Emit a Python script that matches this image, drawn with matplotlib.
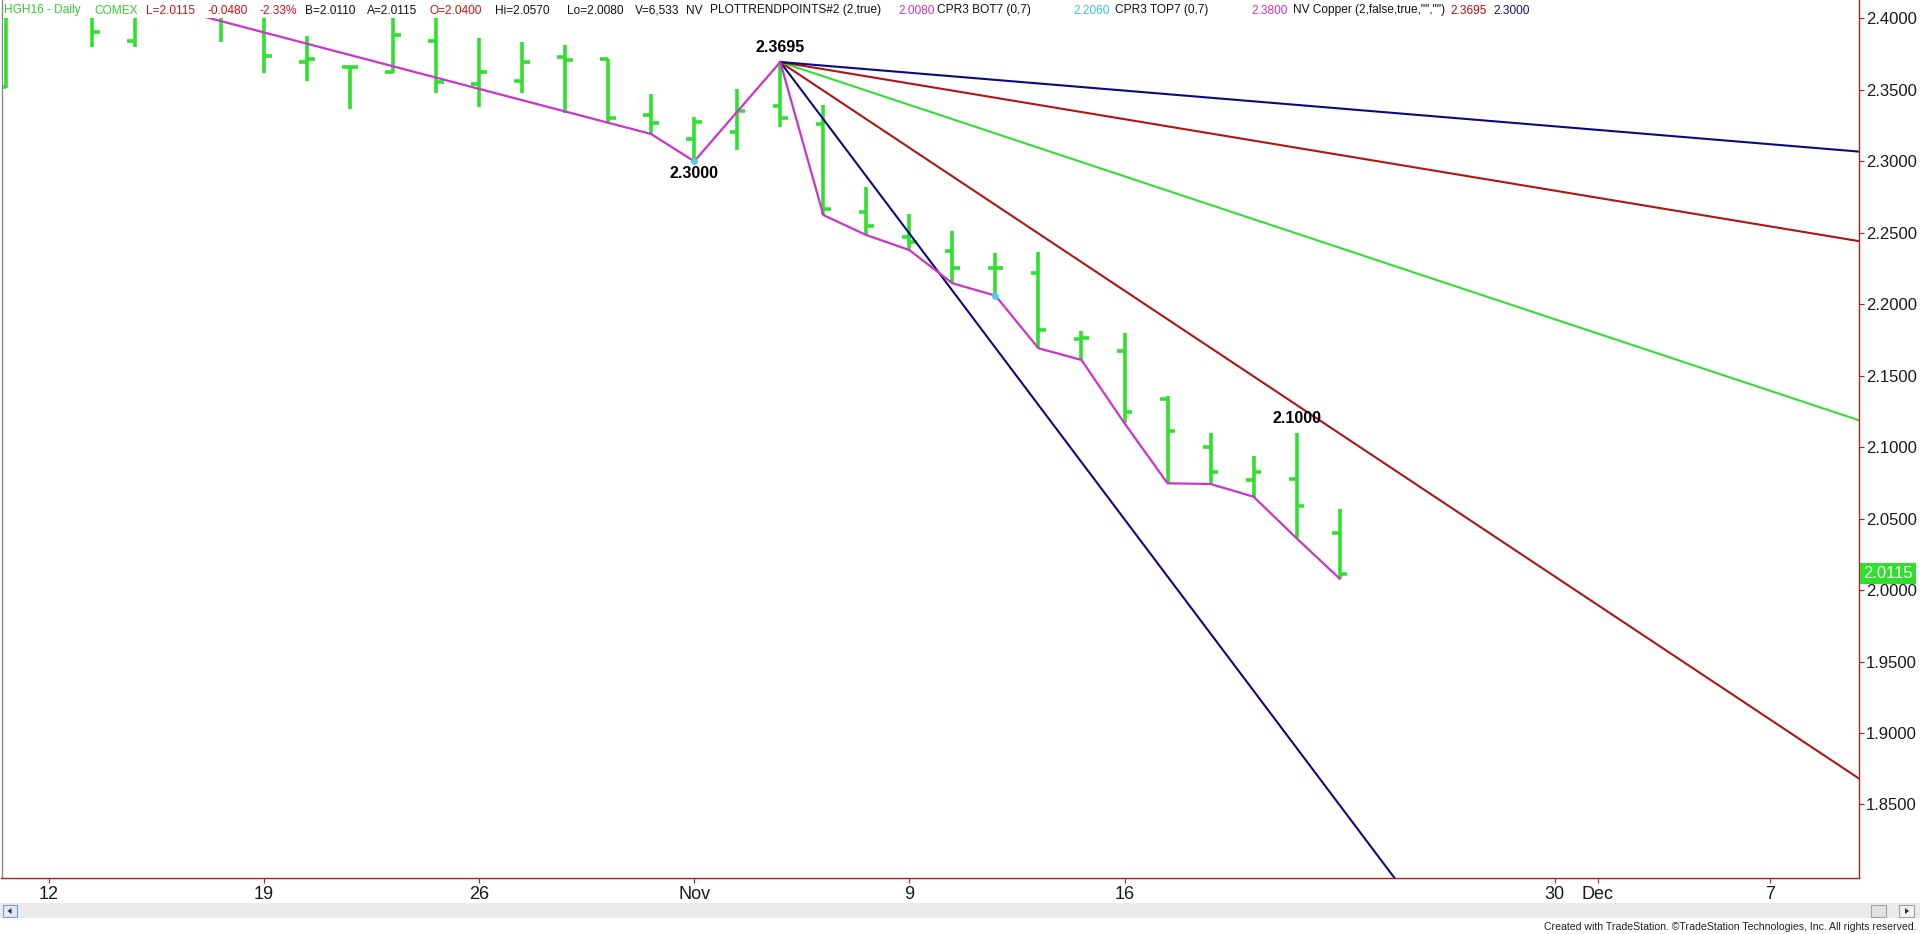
import numpy as np
import matplotlib.pyplot as plt
from matplotlib.patches import Rectangle, Polygon

# trading-day index, 0 = Mon 12 Oct 2015 (gaps are bars sitting above the visible range)
bar_idx = [-1, 1, 2, 4, 5, 6, 7, 8, 9, 10, 11, 12, 13, 14, 15, 16, 17, 18, 19, 20,
           21, 22, 23, 24, 25, 26, 27, 28, 29, 30]
bar_open = [2.3518, 2.4050, 2.3842, 2.4060, 2.4050, 2.3697, 2.3662, 2.3627, 2.3842, 2.3541,
            2.3562, 2.3732, 2.3714, 2.3324, 2.3154, 2.3207, 2.3387, 2.3261, 2.2648, 2.2470,
            2.2374, 2.2255, 2.2216, 2.1757, 2.1673, 2.1335, 2.1003, 2.0770, 2.0777, 2.0400]
bar_high = [2.4100, 2.4100, 2.4100, 2.4100, 2.4100, 2.3877, 2.3669, 2.4100, 2.4050, 2.3861,
            2.3837, 2.3814, 2.3714, 2.3471, 2.3308, 2.3504, 2.3695, 2.3394, 2.2822, 2.2631,
            2.2515, 2.2361, 2.2363, 2.1815, 2.1797, 2.1358, 2.1101, 2.0940, 2.1097, 2.0570]
bar_low = [2.3513, 2.3798, 2.3798, 2.3837, 2.3616, 2.3564, 2.3364, 2.3616, 2.3476, 2.3382,
           2.3476, 2.3340, 2.3277, 2.3191, 2.3000, 2.3079, 2.3242, 2.2624, 2.2484, 2.2379,
           2.2147, 2.2060, 2.1692, 2.1610, 2.1167, 2.0747, 2.0742, 2.0653, 2.0362, 2.0080]
bar_close = [2.4050, 2.3903, 2.4040, 2.4030, 2.3737, 2.3716, 2.3662, 2.3884, 2.3555, 2.3623,
             2.3693, 2.3709, 2.3301, 2.3266, 2.3277, 2.3352, 2.3301, 2.2664, 2.2547, 2.2437,
             2.2251, 2.2255, 2.1820, 2.1762, 2.1248, 2.1113, 2.0828, 2.0828, 2.0590, 2.0115]

# NV trend points (zigzag)
trend_idx = [3, 14, 15, 17, 18, 19, 20, 21, 22, 23, 24, 25, 26, 27, 28, 29, 30]
trend_price = [2.4060, 2.3191, 2.3000, 2.3695, 2.2624, 2.2484, 2.2379, 2.2147, 2.2060,
               2.1692, 2.1610, 2.1167, 2.0747, 2.0742, 2.0653, 2.0362, 2.0080]

# angle lines drawn from the swing high
fan_idx = 17
fan_price = 2.3695
fan_slopes = [-0.04, -0.02, -0.01, -0.005, -0.0025]
fan_colors = ["#0a0a80", "#b01414", "#33dd33", "#b01414", "#0a0a80"]

cpr_idx = [15, 22]
cpr_price = [2.3000, 2.2060]

pivot_labels = ["2.3695", "2.3000", "2.1000"]
pivot_idx = [17, 15, 29]
pivot_price = [2.3695, 2.3000, 2.1097]
pivot_above = [True, False, True]

date_ticks = [0, 5, 10, 15, 20, 25, 35, 36, 40]
date_labels = ["12", "19", "26", "Nov", "9", "16", "30", "Dec", "7"]
month_ticks = [15, 36]

price_ticks = [1.85, 1.90, 1.95, 2.00, 2.05, 2.10, 2.15, 2.20, 2.25, 2.30, 2.35, 2.40]
last_price = 2.0115

header = [
    ("HGH16 - Daily", "#33cc33"), ("COMEX", "#33cc33"),
    ("L=2.0115", "#cc1111"), ("-0.0480", "#cc1111"), ("-2.33%", "#cc1111"),
    ("B=2.0110", "#111111"), ("A=2.0115", "#111111"), ("O=2.0400", "#cc1111"),
    ("Hi=2.0570", "#111111"), ("Lo=2.0080", "#111111"), ("V=6,533", "#111111"),
    ("NV", "#111111"), ("PLOTTRENDPOINTS#2 (2,true)", "#111111"),
    ("2.0080", "#cc33cc"), ("CPR3 BOT7 (0,7)", "#111111"),
    ("2.2060", "#33cccc"), ("CPR3 TOP7 (0,7)", "#111111"),
    ("2.3800", "#cc33cc"), ('NV Copper (2,false,true,"","")', "#111111"),
    ("2.3695", "#aa1111"), ("2.3000", "#10107a"),
]
header_x = [4, 94, 146, 208, 259, 305, 367, 430, 495, 567, 635, 686, 710,
            898, 937, 1073, 1115, 1251, 1293, 1450, 1493]

W, H = 1920, 934
BAR_GREEN = "#2fe02f"
AXIS_RED = "#b41e1e"
NARROW = ["Liberation Sans Narrow", "Liberation Sans"]

fig = plt.figure(figsize=(W / 100, H / 100), dpi=100)
ax_left, ax_right, ax_bottom = 1.5, 1859, 878
ax = fig.add_axes([ax_left / W, (H - ax_bottom) / H, (ax_right - ax_left) / W, ax_bottom / H])

ax.set_xlim(-1.10, 42.07)
ax.set_ylim(1.7985, 2.4129)

idx = np.array(bar_idx, dtype=float)
tick_w = 0.18
ax.vlines(idx, bar_low, bar_high, color=BAR_GREEN, linewidth=2.6, zorder=2)
ax.hlines(bar_open, idx - tick_w, idx, color=BAR_GREEN, linewidth=2.6, zorder=2)
ax.hlines(bar_close, idx, idx + tick_w, color=BAR_GREEN, linewidth=2.6, zorder=2)

fan_x = np.array([fan_idx, 45.0])
for slope, color in zip(fan_slopes, fan_colors):
    ax.plot(fan_x, fan_price + slope * (fan_x - fan_idx), color=color, linewidth=1.5, zorder=3)

ax.plot(trend_idx, trend_price, color="#cc33cc", linewidth=1.6, zorder=4)
ax.plot(cpr_idx, cpr_price, "o", color="#55c8f0", markersize=5, markeredgewidth=0, zorder=5)

for text, i, p, above in zip(pivot_labels, pivot_idx, pivot_price, pivot_above):
    ax.annotate(text, (i, p), xytext=(0, 10.5 if above else -9), textcoords="offset points",
                ha="center", va="center", fontsize=11.5, fontweight="bold",
                family="Liberation Sans", color="black", zorder=7)

# white band behind the status line at the top of the chart
band = 18 / ax_bottom
ax.add_patch(Rectangle((0, 1 - band), 1, band, transform=ax.transAxes,
                       facecolor="white", edgecolor="none", zorder=6))

# axes frame
ax.spines["top"].set_visible(False)
ax.spines["left"].set_color("#8a8a8a")
ax.spines["right"].set_color(AXIS_RED)
ax.spines["bottom"].set_color(AXIS_RED)
for s in ax.spines.values():
    s.set_linewidth(1.0)
    s.set_zorder(10)

ax.yaxis.tick_right()
ax.set_yticks(price_ticks)
ax.set_yticklabels([f"{p:.4f}" for p in price_ticks])
ax.tick_params(axis="y", length=3.5, width=0.8, color=AXIS_RED, pad=1.5,
               labelsize=12, labelcolor="#1a1a1a")
for lab in ax.get_yticklabels():
    lab.set_family("Liberation Sans")

ax.set_xticks(date_ticks)
ax.set_xticklabels(date_labels)
ax.set_xticks(month_ticks, minor=True)
ax.tick_params(axis="x", which="major", length=3.5, width=0.8, color=AXIS_RED, pad=2.5,
               labelsize=13, labelcolor="#1a1a1a")
ax.tick_params(axis="x", which="minor", length=8, width=0.8, color=AXIS_RED)
for lab in ax.get_xticklabels():
    lab.set_family(NARROW)

# last price marker on the price scale
ax.annotate(f"{last_price:.4f}", (1, last_price), xycoords=("axes fraction", "data"),
            xytext=(3, 0), textcoords="offset points", ha="left", va="center",
            fontsize=12, family="Liberation Sans", color="white", annotation_clip=False,
            bbox=dict(boxstyle="square,pad=0.18", facecolor="#2ee02e", edgecolor="none"),
            zorder=11)

# status line
for (text, color), x in zip(header, header_x):
    fig.text(x / W, 1 - 10.5 / H, text, color=color, fontsize=8.6,
             family="Liberation Sans", ha="left", va="center")

# scroll bar strip
def fig_rect(x0, y0, x1, y1, **kw):
    fig.patches.append(Rectangle((x0 / W, 1 - y1 / H), (x1 - x0) / W, (y1 - y0) / H,
                                 transform=fig.transFigure, figure=fig, **kw))

def fig_arrow(cx, cy, left):
    d = -1 if left else 1
    pts = [((cx + d * 2.5) / W, 1 - cy / H),
           ((cx - d * 1.5) / W, 1 - (cy - 3) / H),
           ((cx - d * 1.5) / W, 1 - (cy + 3) / H)]
    fig.patches.append(Polygon(pts, closed=True, transform=fig.transFigure, figure=fig,
                               facecolor="#303030", edgecolor="none"))

fig_rect(0, 903, W, 918, facecolor="#ebebeb", edgecolor="none")
fig_rect(3, 905, 17, 917, facecolor="#dfe9f7", edgecolor="#7f9cc4", linewidth=0.8)
fig_arrow(10, 911, left=True)
fig_rect(1871, 905, 1886, 917, facecolor="#e2e2e2", edgecolor="#a0a0a0", linewidth=0.8)
fig_rect(1899, 905, 1914, 917, facecolor="#f2f2f2", edgecolor="#a0a0a0", linewidth=0.8)
fig_arrow(1906.5, 911, left=False)

fig.text(1917 / W, 1 - 927 / H,
         "Created with TradeStation. \u00a9TradeStation Technologies, Inc. All rights reserved.",
         fontsize=7.6, family=NARROW, color="#222222", ha="right", va="center")

fig.savefig("out.png", dpi=100, facecolor="white")
